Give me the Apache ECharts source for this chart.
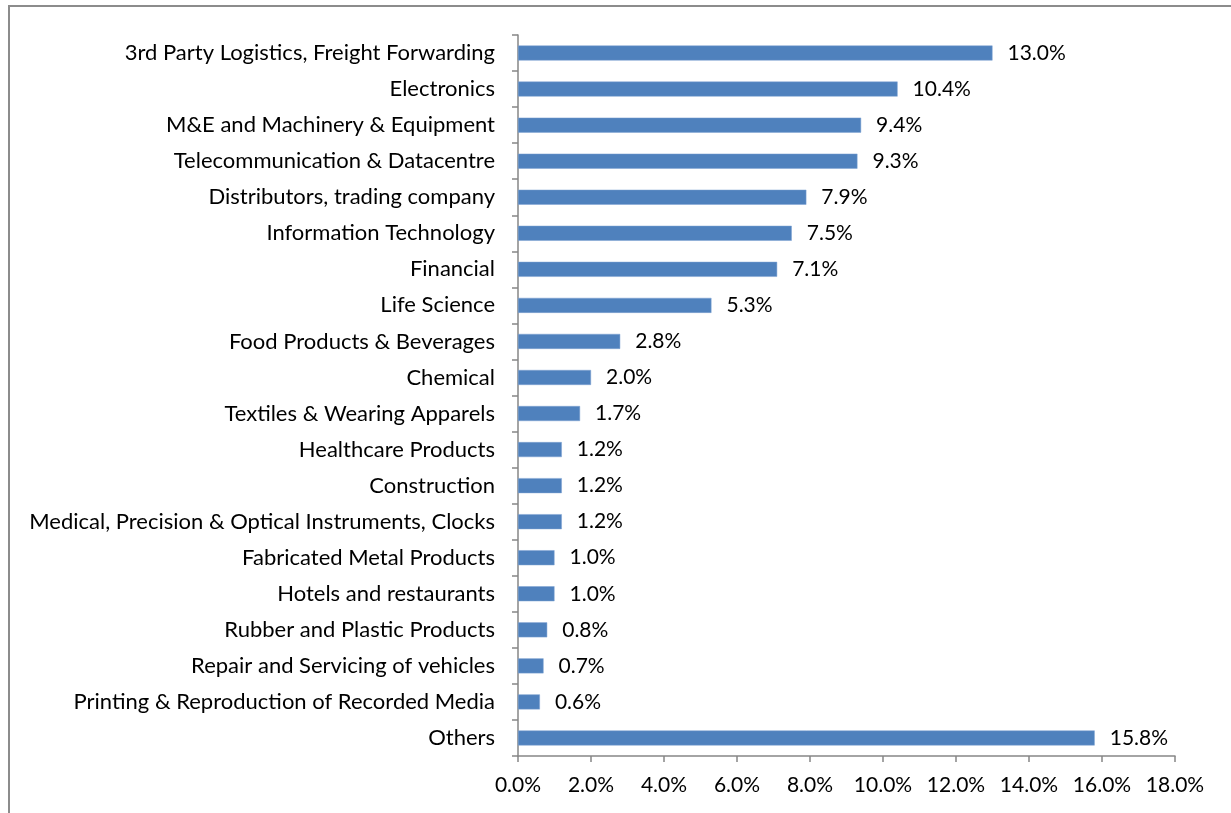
<!DOCTYPE html>
<html>
<head>
<meta charset="utf-8">
<script src="https://cdn.jsdelivr.net/npm/echarts@6/dist/echarts.min.js"></script>
<style>
  html, body { margin: 0; padding: 0; background: #fff; }
  #frame { position: absolute; left: 8px; top: 5px; width: 1240px; height: 830px;
           border-left: 2px solid #8c8c8c; border-top: 2px solid #8c8c8c; }
  #chart { position: absolute; left: 0; top: 0; width: 1231px; height: 813px; }
</style>
</head>
<body>
<div id="frame"></div>
<div id="chart"></div>
<script>
// Share of companies by industry sector (%)
const categories = [
  '3rd Party Logistics, Freight Forwarding',
  'Electronics',
  'M&E and Machinery & Equipment',
  'Telecommunication & Datacentre',
  'Distributors, trading company',
  'Information Technology',
  'Financial',
  'Life Science',
  'Food Products & Beverages',
  'Chemical',
  'Textiles & Wearing Apparels',
  'Healthcare Products',
  'Construction',
  'Medical, Precision & Optical Instruments, Clocks',
  'Fabricated Metal Products',
  'Hotels and restaurants',
  'Rubber and Plastic Products',
  'Repair and Servicing of vehicles',
  'Printing & Reproduction of Recorded Media',
  'Others'
];
const shares = [13.0, 10.4, 9.4, 9.3, 7.9, 7.5, 7.1, 5.3, 2.8, 2.0, 1.7, 1.2, 1.2, 1.2, 1.0, 1.0, 0.8, 0.7, 0.6, 15.8];

const font = 'Lato, "Open Sans", sans-serif';
const axisColor = '#868686';

const chart = echarts.init(document.getElementById('chart'), null, { renderer: 'canvas' });
chart.setOption({
  animation: false,
  grid: { left: 518, right: 56, top: 35, bottom: 57, containLabel: false },
  xAxis: {
    type: 'value',
    min: 0, max: 18, interval: 2,
    axisLine: { show: true, lineStyle: { color: axisColor, width: 1.5 } },
    axisTick: { show: true, length: 6, lineStyle: { color: axisColor, width: 1.5 } },
    splitLine: { show: false },
    axisLabel: {
      color: '#000', fontFamily: font, fontSize: 21, margin: 19,
      formatter: v => v.toFixed(1) + '%'
    }
  },
  yAxis: {
    type: 'category',
    data: categories,
    inverse: true,
    axisLine: { show: true, lineStyle: { color: axisColor, width: 1.5 } },
    axisTick: { show: true, length: 6, inside: false, lineStyle: { color: axisColor, width: 1.5 } },
    axisLabel: { color: '#000', fontFamily: font, fontSize: 22, margin: 23 }
  },
  series: [{
    type: 'bar',
    data: shares,
    barWidth: 15,
    itemStyle: { color: '#4F81BD', borderColor: '#7ea3d2', borderWidth: 0.5 },
    label: {
      show: true, position: 'right', distance: 15,
      color: '#000', fontFamily: font, fontSize: 21,
      formatter: p => p.value.toFixed(1) + '%'
    }
  }]
});
</script>
</body>
</html>
